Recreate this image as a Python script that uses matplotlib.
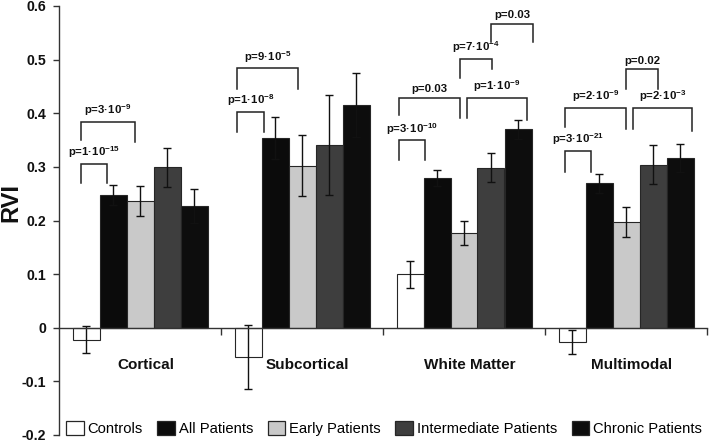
import matplotlib
matplotlib.use("Agg")
import matplotlib.pyplot as plt
from matplotlib.patches import Patch
import numpy as np

plt.rcParams['font.family'] = ['Liberation Sans', 'DejaVu Sans']
plt.rcParams['mathtext.fontset'] = 'custom'
plt.rcParams['mathtext.rm'] = 'Liberation Sans'
plt.rcParams['mathtext.bf'] = 'Liberation Sans:bold'
plt.rcParams['mathtext.default'] = 'bf'
plt.rcParams['axes.unicode_minus'] = False

# ---- data ----
categories = ["Cortical", "Subcortical", "White Matter", "Multimodal"]
series = ["Controls", "All Patients", "Early Patients", "Intermediate Patients", "Chronic Patients"]
controls     = [-0.022, -0.055, 0.100, -0.027]
all_patients = [0.248, 0.354, 0.279, 0.269]
early        = [0.237, 0.302, 0.177, 0.197]
intermediate = [0.299, 0.341, 0.298, 0.304]
chronic      = [0.227, 0.415, 0.370, 0.316]
err_controls     = [0.026, 0.060, 0.025, 0.022]
err_all          = [0.019, 0.039, 0.015, 0.017]
err_early        = [0.028, 0.057, 0.022, 0.028]
err_intermediate = [0.036, 0.093, 0.027, 0.036]
err_chronic      = [0.031, 0.060, 0.018, 0.026]

p_labels = [
    "p=1·10$^{-15}$", "p=3·10$^{-9}$",
    "p=1·10$^{-8}$", "p=9·10$^{-5}$",
    "p=3·10$^{-10}$", "p=0.03", "p=7·10$^{-4}$", "p=1·10$^{-9}$", "p=0.03",
    "p=3·10$^{-21}$", "p=2·10$^{-9}$", "p=2·10$^{-3}$", "p=0.02",
]

# ---- layout for significance brackets: (group, x_left, x_right, top, left leg bottom, right leg bottom)
bracket_geom = [
    (0, -0.366, -0.206, 0.306, 0.270, 0.270),
    (0, -0.366, -0.029, 0.384, 0.351, 0.347),
    (1, -0.400, -0.236, 0.403, 0.365, 0.365),
    (1, -0.400, -0.023, 0.484, 0.446, 0.446),
    (2, -0.401, -0.241, 0.350, 0.313, 0.313),
    (2, -0.401, -0.025, 0.429, 0.396, 0.392),
    (2, -0.025, 0.175, 0.502, 0.465, 0.482),
    (2, 0.020, 0.387, 0.429, 0.392, 0.387),
    (2, 0.167, 0.427, 0.567, 0.533, 0.533),
    (3, -0.375, -0.216, 0.330, 0.291, 0.291),
    (3, -0.375, 0.000, 0.410, 0.375, 0.370),
    (3, 0.045, 0.410, 0.410, 0.370, 0.367),
    (3, 0.000, 0.200, 0.482, 0.445, 0.445),
]

values = [controls, all_patients, early, intermediate, chronic]
errors = [err_controls, err_all, err_early, err_intermediate, err_chronic]
colors = ["#ffffff", "#0b0b0b", "#c9c9c9", "#3e3e3e", "#0d0d0d"]

fig = plt.figure(figsize=(7.09, 4.42), dpi=100)
ax = fig.add_axes([59/709, 7/442, 648/709, 429/442])

x = np.arange(len(categories))
w = 27/162
edge = "#262626"
for k, (vals, errs, col) in enumerate(zip(values, errors, colors)):
    ax.bar(x + (k - 2) * w, vals, width=w, color=col, edgecolor=edge, linewidth=0.8,
           yerr=errs, error_kw=dict(ecolor="#111111", elinewidth=1.0, capsize=3, capthick=1.0),
           zorder=2)

ax.set_xlim(-0.5, 3.5)
ax.set_ylim(-0.2, 0.6)
ax.set_yticks(np.arange(-0.2, 0.61, 0.1))
ax.set_yticklabels(["-0.2", "-0.1", "0", "0.1", "0.2", "0.3", "0.4", "0.5", "0.6"],
                   fontsize=10.2, fontweight="bold", color="#111111")
ax.tick_params(axis="y", direction="out", length=4, width=1, color="#333333", pad=5)
ax.set_xticks([0.5, 1.5, 2.5, 3.5])
ax.set_xticklabels([])
ax.tick_params(axis="x", direction="out", length=5, width=1, color="#333333")
for s in ["top", "right"]:
    ax.spines[s].set_visible(False)
ax.spines["bottom"].set_position(("data", 0))
ax.spines["left"].set_color("#333333")
ax.spines["bottom"].set_color("#333333")
ax.spines["left"].set_linewidth(1.0)
ax.spines["bottom"].set_linewidth(1.0)

for i, c in enumerate(categories):
    ax.text(i + 0.035, -0.0695, c, ha="center", va="center", fontsize=11, fontweight="bold", color="#111111")

for (g, xl, xr, top, yl, yr), lab in zip(bracket_geom, p_labels):
    ax.plot([g + xl, g + xl, g + xr, g + xr], [yl, top, top, yr], color="#222222", lw=1.1,
            solid_joinstyle="miter", zorder=3)
    ax.annotate(lab, xy=(g + (xl + xr) / 2, top), xytext=(0, 2.5), textcoords="offset points",
                ha="center", va="bottom", fontsize=8.2, fontweight="bold", color="#111111")

fig.text(10.5/709, 1 - 203/442, "RVI", rotation=90, ha="center", va="center",
         fontsize=17, fontweight="bold", color="#111111")

handles = [Patch(facecolor=c, edgecolor=edge, linewidth=0.9) for c in colors]
fig.legend(handles, series, loc="lower left", bbox_to_anchor=(66/709, 6/442), ncol=5,
           frameon=False, fontsize=10.6, handlelength=1.2, handleheight=1.07,
           handletextpad=0.25, columnspacing=1.0, borderpad=0, borderaxespad=0)

fig.savefig("out.png", dpi=100)
